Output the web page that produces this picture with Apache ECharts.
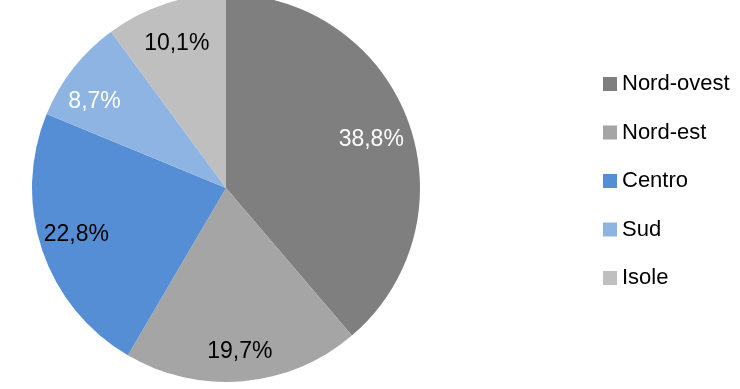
<!DOCTYPE html>
<html><head><meta charset="utf-8">
<script src="https://cdn.jsdelivr.net/npm/echarts@6/dist/echarts.min.js"></script>
<style>html,body{margin:0;padding:0;background:#fff}#c{width:740px;height:389px}</style>
</head><body><div id="c"></div>
<script>
var categories = ['Nord-ovest', 'Nord-est', 'Centro', 'Sud', 'Isole'];
var values = [38.8, 19.7, 22.8, 8.7, 10.1];
var colors = ['#7f7f7f', '#a5a5a5', '#558ed5', '#8eb4e3', '#bfbfbf'];
var labelColors = ['#ffffff', '#000000', '#000000', '#ffffff', '#000000'];
var labelOffsets = [[-3, 0], [0, 0], [0, -10], [-7, 5], [0, 0]];

var chart = echarts.init(document.getElementById('c'));
var fillData = categories.map(function (n, i) {
  return { name: n, value: values[i], itemStyle: { color: colors[i] } };
});
var labelData = categories.map(function (n, i) {
  return { name: n, value: values[i], itemStyle: { color: 'rgba(0,0,0,0)' },
    label: { color: labelColors[i], offset: labelOffsets[i] } };
});
function fmt(p) { return p.value.toFixed(1).replace('.', ',') + '%'; }
chart.setOption({
  animation: false,
  color: colors,
  legend: {
    orient: 'vertical', left: 598, top: 68,
    icon: 'rect', itemWidth: 14, itemHeight: 14, itemGap: 26.5,
    textStyle: { fontFamily: 'Liberation Sans, Arial, sans-serif', fontSize: 22, color: '#000', lineHeight: 22 },
    data: categories
  },
  series: [{
    type: 'pie', center: [226, 188], radius: [0, 194],
    startAngle: 90, clockwise: true, silent: true,
    label: { show: false }, labelLine: { show: false },
    data: fillData
  }, {
    type: 'pie', center: [226, 194], radius: [116, 194],
    startAngle: 90, clockwise: true, silent: true, legendHoverLink: false,
    label: { show: true, position: 'inside', formatter: fmt,
      fontFamily: 'Liberation Sans, Arial, sans-serif', fontSize: 23 },
    labelLine: { show: false },
    data: labelData
  }]
});
</script></body></html>
